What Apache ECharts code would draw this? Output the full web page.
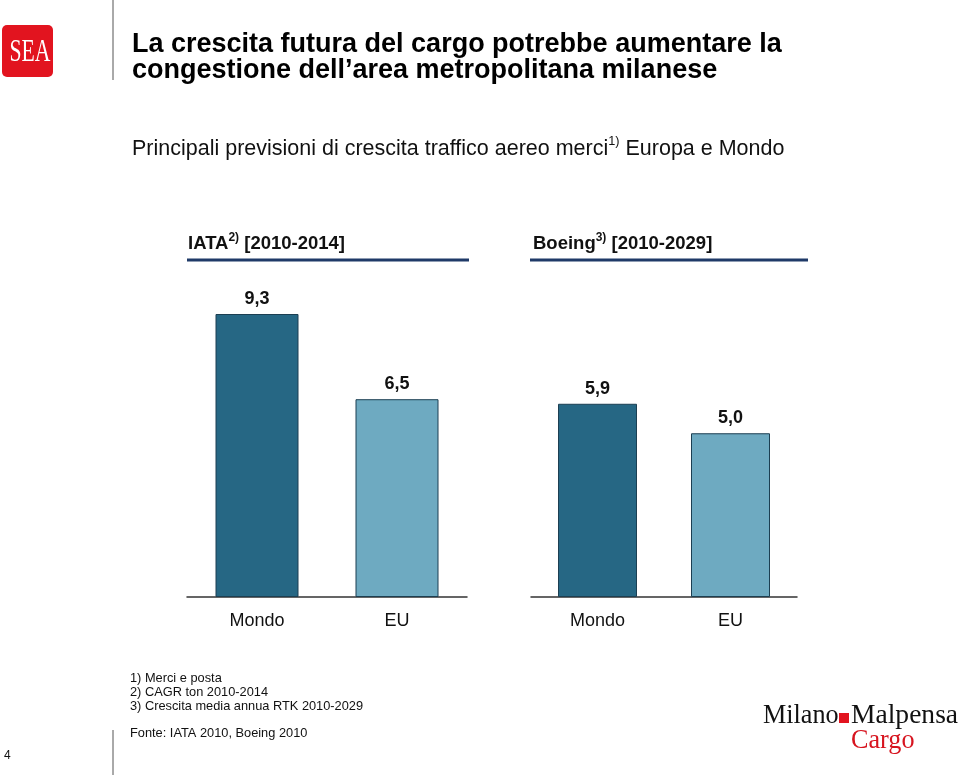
<!DOCTYPE html>
<html>
<head>
<meta charset="utf-8">
<script src="https://cdn.jsdelivr.net/npm/echarts@6/dist/echarts.min.js"></script>
<style>
html,body{margin:0;padding:0;background:#fff;}
#chart{width:959px;height:775px;}
</style>
</head>
<body>
<div id="chart"></div>
<script>
const iataCategories = ['Mondo', 'EU'];
const iataValues = [9.3, 6.5];
const boeingCategories = ['Mondo', 'EU'];
const boeingValues = [5.9, 5.0];
const barColors = ['#266784', '#6eaac1'];

const chart = echarts.init(document.getElementById('chart'));
const fmt = p => p.value.toFixed(1).replace('.', ',');
const sans = 'Liberation Sans, Arial, sans-serif';

function barSeries(values, idx, width) {
  return {
    type: 'bar',
    xAxisIndex: idx,
    yAxisIndex: idx,
    barWidth: width,
    data: values.map((v, i) => ({
      value: v,
      itemStyle: { color: barColors[i], borderColor: '#1c3f52', borderWidth: 1 }
    })),
    label: {
      show: true, position: 'top', distance: 6, formatter: fmt,
      fontFamily: sans, fontWeight: 'bold', fontSize: 18, color: '#111'
    },
    silent: true,
    animation: false
  };
}
function xAx(cats, idx) {
  return {
    type: 'category', gridIndex: idx, data: cats,
    axisLine: { lineStyle: { color: '#333', width: 1.5 } },
    axisTick: { show: false },
    axisLabel: { fontFamily: sans, fontSize: 18, color: '#111', margin: 15 }
  };
}
function yAx(idx) {
  return { type: 'value', gridIndex: idx, min: 0, max: 10, show: false, splitLine: { show: false } };
}

const option = {
  animation: false,
  grid: [
    { left: 187, width: 280, top: 292.7, height: 304.3 },
    { left: 531, width: 266, top: 269.5, height: 327.5 }
  ],
  xAxis: [xAx(iataCategories, 0), xAx(boeingCategories, 1)],
  yAxis: [yAx(0), yAx(1)],
  series: [barSeries(iataValues, 0, 83), barSeries(boeingValues, 1, 79)],
  graphic: [
    // SEA logo
    { type: 'rect', shape: { x: 2, y: 25, width: 51, height: 52, r: 5 }, style: { fill: '#e2141f' } },
    { type: 'text', x: 30, y: 53, style: { text: 'SEA', fill: '#fff', font: '31px "Liberation Serif", serif', align: 'center', verticalAlign: 'middle' }, scaleX: 0.7 },
    // separators
    { type: 'line', shape: { x1: 113, y1: 0, x2: 113, y2: 80 }, style: { stroke: '#555', lineWidth: 1 } },
    { type: 'line', shape: { x1: 113, y1: 730, x2: 113, y2: 775 }, style: { stroke: '#555', lineWidth: 1 } },
    // title
    { type: 'text', x: 132, y: 31, style: { text: 'La crescita futura del cargo potrebbe aumentare la\ncongestione dell\u2019area metropolitana milanese', font: 'bold 27px "Liberation Sans", Arial, sans-serif', fill: '#000', lineHeight: 26.5 } },
    // subtitle
    { type: 'text', x: 132, y: 135, scaleX: 0.977, style: {
      text: '{n|Principali previsioni di crescita traffico aereo merci}{s|1)}{n| Europa e Mondo}',
      rich: {
        n: { font: '22px "Liberation Sans", Arial, sans-serif', fill: '#111', verticalAlign: 'bottom', lineHeight: 25 },
        s: { font: '13px "Liberation Sans", Arial, sans-serif', fill: '#111', verticalAlign: 'top', lineHeight: 25 }
      } } },
    // group headers
    { type: 'text', x: 188, y: 232, style: {
      text: '{n|IATA}{s|2)}{n| [2010-2014]}',
      rich: {
        n: { font: 'bold 18.5px "Liberation Sans", Arial, sans-serif', fill: '#111', lineHeight: 21, verticalAlign: 'bottom' },
        s: { font: 'bold 12px "Liberation Sans", Arial, sans-serif', fill: '#111', lineHeight: 21, verticalAlign: 'top' }
      } } },
    { type: 'text', x: 533, y: 232, style: {
      text: '{n|Boeing}{s|3)}{n| [2010-2029]}',
      rich: {
        n: { font: 'bold 18.5px "Liberation Sans", Arial, sans-serif', fill: '#111', lineHeight: 21, verticalAlign: 'bottom' },
        s: { font: 'bold 12px "Liberation Sans", Arial, sans-serif', fill: '#111', lineHeight: 21, verticalAlign: 'top' }
      } } },
    { type: 'line', shape: { x1: 187, y1: 260, x2: 469, y2: 260 }, style: { stroke: '#1f3a68', lineWidth: 3 } },
    { type: 'line', shape: { x1: 530, y1: 260, x2: 808, y2: 260 }, style: { stroke: '#1f3a68', lineWidth: 3 } },
    // footnotes
    { type: 'text', x: 130, y: 671, style: { text: '1) Merci e posta\n2) CAGR ton 2010-2014\n3) Crescita media annua RTK 2010-2029', font: '12.8px "Liberation Sans", Arial, sans-serif', fill: '#111', lineHeight: 14 } },
    { type: 'text', x: 130, y: 727, style: { text: 'Fonte: IATA 2010, Boeing 2010', font: '12.8px "Liberation Sans", Arial, sans-serif', fill: '#111' } },
    // page number
    { type: 'text', x: 4, y: 750, style: { text: '4', font: '12px "Liberation Sans", Arial, sans-serif', fill: '#111' } },
    // Milano Malpensa Cargo logo
    { type: 'text', x: 763, y: 702, style: { text: 'Milano', font: '27px "Liberation Serif", serif', fill: '#111' }, scaleX: 0.97 },
    { type: 'rect', shape: { x: 839, y: 713, width: 10, height: 10 }, style: { fill: '#e2141f' } },
    { type: 'text', x: 851, y: 702, style: { text: 'Malpensa', font: '27px "Liberation Serif", serif', fill: '#111' }, scaleX: 1.02 },
    { type: 'text', x: 851, y: 727, style: { text: 'Cargo', font: '27px "Liberation Serif", serif', fill: '#d7141f' }, scaleX: 0.97 }
  ]
};
chart.setOption(option);
</script>
</body>
</html>
